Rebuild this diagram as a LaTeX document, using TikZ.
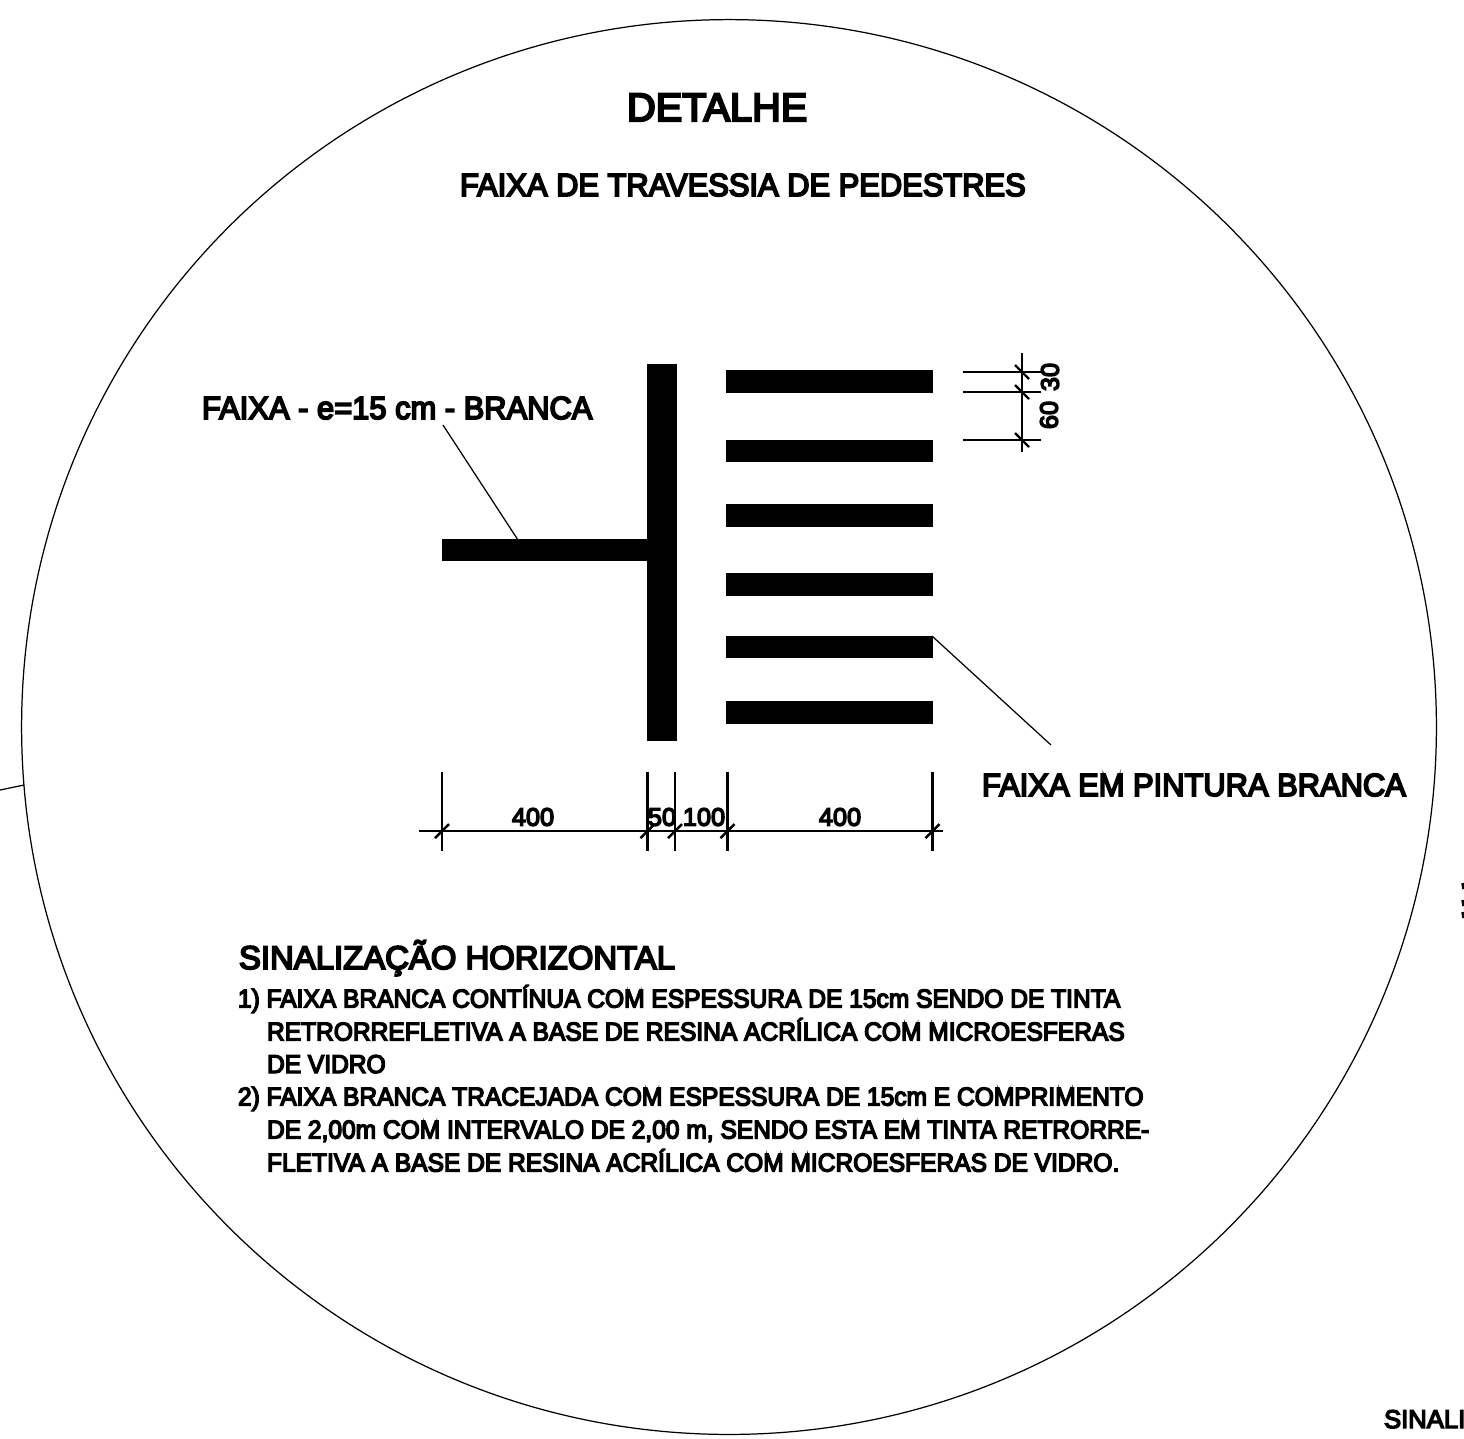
\documentclass[tikz,border=0pt]{standalone}
\usepackage{fontspec}
\setmainfont[FakeBold=5.5]{Liberation Sans}
\newfontfamily\headfont[FakeBold=5.5,FakeStretch=0.965]{Liberation Sans}
\newfontfamily\bodyfont[FakeBold=5.5,FakeStretch=0.95]{Liberation Sans}
\tikzset{
    thinline/.style={line width=0.35pt},
    dimline/.style={line width=0.7pt},
    lbl/.style={inner sep=0pt, outer sep=0pt, anchor=base west},
    numlbl/.style={inner sep=0pt, outer sep=0pt, font=\fontsize{7.2}{8}\selectfont},
    bodytext/.style={lbl, font=\bodyfont\fontsize{7.35}{9}\selectfont},
    headtext/.style={lbl, font=\headfont\fontsize{9.1}{11}\selectfont},
    band/.style={fill=black, draw=none},
}
\begin{document}
\begin{tikzpicture}[x=0.01cm, y=-0.01cm]
    \useasboundingbox (0,0) rectangle (1464,1438);
    % outline
    \coordinate (O) at (729,727);
    \draw[thinline] (O) circle [radius=7.07cm];
    \coordinate (E) at (0,790);
    \coordinate (F) at (24,785);
    \draw[thinline] (E) -- (F);
    % titles
    \node[lbl, font=\fontsize{11.3}{13}\selectfont] (title) at (627,121) {DETALHE};
    \node[headtext] (subtitle) at (460,196) {FAIXA DE TRAVESSIA DE PEDESTRES};
    % painted bands
    \fill[band] (647,364) rectangle (677,741);
    \fill[band] (442,539) rectangle (647,561);
    \foreach \ya/\yb in {370/393, 440/462, 504/527, 573/596, 636/658, 701/724}
        \fill[band] (726,\ya) rectangle (933,\yb);
    % leaders
    \node[headtext] (branca) at (202,419) {FAIXA - e=15 cm - BRANCA};
    \coordinate (P) at (443,425);
    \coordinate (Q) at (518,540);
    \draw[thinline] (P) -- (Q);
    \node[headtext] (pintura) at (982,796) {FAIXA EM PINTURA BRANCA};
    \coordinate (R) at (932,636);
    \coordinate (S) at (1051,745);
    \draw[thinline] (R) -- (S);
    % horizontal dimensions
    \coordinate (A) at (419,831);
    \coordinate (B) at (943,831);
    \draw[dimline] (A) -- (B);
    \foreach \x in {442, 647.5, 675, 727.5, 932.5} {
        \draw[dimline] (\x,772) -- (\x,851);
        \draw[dimline] (\x-7,838) -- (\x+7,824);
    }
    \node[numlbl] (d400a) at (533,817) {400};
    \node[numlbl] (d50) at (662,817) {50};
    \node[numlbl] (d100) at (704,817) {100};
    \node[numlbl] (d400b) at (840,817) {400};
    % vertical dimensions
    \coordinate (C) at (1022,353);
    \coordinate (D) at (1022,452);
    \draw[dimline] (C) -- (D);
    \foreach \y in {372, 392, 440} {
        \draw[dimline] (963,\y) -- (1041,\y);
        \draw[dimline] (1015,\y-7) -- (1029,\y+7);
    }
    \node[numlbl, rotate=90] (d30) at (1050,377) {30};
    \node[numlbl, rotate=90] (d60) at (1049,415) {60};
    % notes
    \node[lbl, font=\fontsize{9.35}{11}\selectfont] (head) at (239,969) {SINALIZAÇÃO HORIZONTAL};
    \node[bodytext] (n1) at (238,1007.5) {1) FAIXA BRANCA CONTÍNUA COM ESPESSURA DE 15cm SENDO DE TINTA};
    \node[bodytext] (n2) at (267,1040.5) {RETRORREFLETIVA A BASE DE RESINA ACRÍLICA COM MICROESFERAS};
    \node[bodytext] (n3) at (267,1073) {DE VIDRO};
    \node[bodytext] (n4) at (238,1105.5) {2) FAIXA BRANCA TRACEJADA COM ESPESSURA DE 15cm E COMPRIMENTO};
    \node[bodytext] (n5) at (267,1138.5) {DE 2,00m COM INTERVALO DE 2,00 m, SENDO ESTA EM TINTA RETRORRE-};
    \node[bodytext] (n6) at (267,1171.5) {FLETIVA A BASE DE RESINA ACRÍLICA COM MICROESFERAS DE VIDRO.};
    % cut off at the page edge
    \node[lbl, font=\fontsize{7.3}{8}\selectfont] (sinali) at (1384,1428) {SINALI};
    \foreach \y in {886, 903, 915}
        \draw[line width=1pt] (1463,\y-3) -- (1464,\y+3);
\end{tikzpicture}
\end{document}
